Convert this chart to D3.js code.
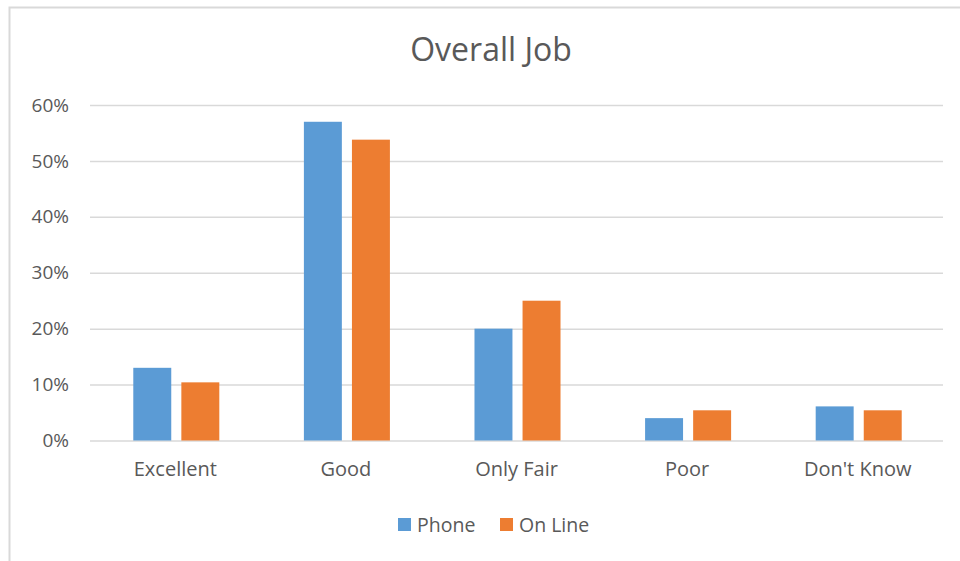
<!DOCTYPE html>
<html>
<head>
    <style>
        body { margin: 0; background: #fff; }
        svg text { font-family: "Open Sans", "Noto Sans", sans-serif; fill: #595959; }
        .title { font-size: 32px; }
        .yaxis .tick text { font-size: 19px; }
        .xaxis .tick text { font-size: 20px; }
        .tick line { stroke: #d9d9d9; stroke-width: 1.5; }
        .domain { display: none; }
        .legend text { font-size: 19.5px; }
    </style>
    <script src="https://d3js.org/d3.v7.min.js"></script>
</head>
<body>
    <svg width="960" height="561"></svg>
    <script>
        var categories = ["Excellent", "Good", "Only Fair", "Poor", "Don't Know"];
        var seriesNames = ["Phone", "On Line"];
        var phone = [0.13, 0.57, 0.20, 0.04, 0.061];
        var online = [0.104, 0.538, 0.25, 0.054, 0.054];
        var yTicks = [0, 0.1, 0.2, 0.3, 0.4, 0.5, 0.6];
        var colors = ["#5b9bd5", "#ed7d31"];

        var svg = d3.select("svg");

        // chart frame
        svg.append("rect")
            .attr("x", 9.5).attr("y", 7.5)
            .attr("width", 960).attr("height", 560)
            .attr("fill", "none").attr("stroke", "#d9d9d9").attr("stroke-width", 2);

        var plotLeft = 90, plotRight = 943, plotTop = 105, plotBottom = 440.5;

        var x = d3.scaleBand().domain(categories).range([plotLeft, plotRight]);
        var x1 = d3.scaleBand().domain(seriesNames).range([0, x.bandwidth()])
            .paddingInner(0.21).paddingOuter(0.88);
        var y = d3.scaleLinear().domain([0, 0.6]).range([plotBottom, plotTop]);

        svg.append("g").attr("class", "yaxis")
            .attr("transform", "translate(" + plotLeft + ",0)")
            .call(d3.axisLeft(y).tickValues(yTicks).tickFormat(d3.format(".0%"))
                .tickSize(-(plotRight - plotLeft)).tickPadding(21));

        svg.append("g").attr("class", "xaxis")
            .attr("transform", "translate(0," + plotBottom + ")")
            .call(d3.axisBottom(x).tickSize(0).tickPadding(21));

        var rows = categories.map(function(c, i) {
            return [{ s: "Phone", v: phone[i], k: 0 }, { s: "On Line", v: online[i], k: 1 }];
        });

        svg.append("g").selectAll("g").data(rows).enter().append("g")
            .attr("transform", function(d, i) { return "translate(" + (x(categories[i]) + 1) + ",0)"; })
            .selectAll("rect").data(function(d) { return d; }).enter().append("rect")
            .attr("x", function(d) { return x1(d.s); })
            .attr("width", x1.bandwidth())
            .attr("y", function(d) { return y(d.v); })
            .attr("height", function(d) { return plotBottom - y(d.v); })
            .attr("fill", function(d) { return colors[d.k]; });

        svg.append("text").attr("class", "title")
            .attr("x", 491).attr("y", 61)
            .attr("text-anchor", "middle")
            .text("Overall Job");

        var legend = svg.append("g").attr("class", "legend");
        var lx = [398, 500];
        seriesNames.forEach(function(s, i) {
            legend.append("rect").attr("x", lx[i]).attr("y", 518)
                .attr("width", 13).attr("height", 13).attr("fill", colors[i]);
            legend.append("text").attr("x", lx[i] + 19).attr("y", 532).text(s);
        });
    </script>
</body>
</html>
